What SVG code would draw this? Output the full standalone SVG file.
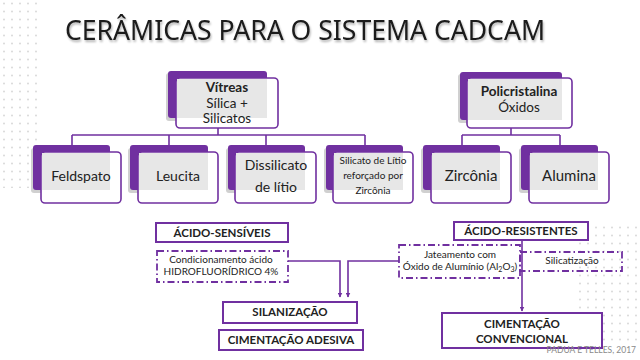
<svg xmlns="http://www.w3.org/2000/svg" width="640" height="360" viewBox="0 0 640 360">
<defs>
<pattern id="dots" x="0" y="0" width="8" height="8" patternUnits="userSpaceOnUse">
<circle cx="4" cy="3.5" r="1" fill="#d9d9d9"/>
</pattern>
<marker id="arr" viewBox="0 0 10 10" refX="9" refY="5" markerWidth="5" markerHeight="5" orient="auto" markerUnits="userSpaceOnUse">
<path d="M0,0 L10,5 L0,10 z" fill="#7030a0"/>
</marker>
<filter id="sh" x="-5%" y="-20%" width="110%" height="150%">
<feGaussianBlur in="SourceAlpha" stdDeviation="0.8"/>
<feOffset dx="1" dy="1.5" result="b"/>
<feComponentTransfer><feFuncA type="linear" slope="0.3"/></feComponentTransfer>
<feMerge><feMergeNode/><feMergeNode in="SourceGraphic"/></feMerge>
</filter>
</defs>
<style>
.back{fill:#7030a0;}
.shade{fill:#d0d0d0;}
.front{fill:#ffffff;stroke:#7030a0;stroke-width:1.6;}
.gray{fill:#e7e7e7;}
.t{font-family:Lato,"Open Sans","Liberation Sans",sans-serif;fill:#222;text-anchor:middle;}
.b{font-weight:bold;}
.box{fill:#ffffff;stroke:#7030a0;stroke-width:2;}
.dash{fill:none;stroke:#7030a0;stroke-width:1.8;stroke-dasharray:7 3 1.5 3;}
.con{fill:none;stroke:#7030a0;stroke-width:1.6;}
</style>
<rect width="640" height="360" fill="#ffffff"/>
<rect x="0" y="0" width="40" height="188" fill="url(#dots)"/>
<rect x="576" y="222" width="64" height="124" fill="url(#dots)"/>

<text x="305" y="40" font-family="'Noto Sans','Open Sans',sans-serif" font-size="27" fill="#1a1a1a" text-anchor="middle" textLength="480" lengthAdjust="spacingAndGlyphs" filter="url(#sh)">CERÂMICAS PARA O SISTEMA CADCAM</text>

<g id="connectors">
<path class="con" d="M218,128 V135 M72,135 H365 M72,135 V145 M169,135 V145 M266,135 V145 M365,135 V145"/>
<path class="con" d="M511,128 V135 M462,135 H560 M462,135 V145 M560,135 V145"/>
<path class="con" d="M288,261 H340 V297" marker-end="url(#arr)"/>
<path class="con" d="M399,261 H348 V297" marker-end="url(#arr)"/>
<path class="con" d="M522,240 V311" marker-end="url(#arr)"/>
</g>

<g id="vitreas">
<rect class="shade" x="166" y="73" width="101" height="48" rx="3"/>
<rect class="back" x="168" y="71" width="99" height="47" rx="3"/>
<rect class="front" x="176" y="78" width="102" height="50" rx="4"/>
<rect class="gray" x="177" y="79" width="90" height="39"/>
<text class="t b" x="227" y="92" font-size="13.5">Vítreas</text>
<text class="t" x="227" y="107.5" font-size="13.5">Sílica +</text>
<text class="t" x="227" y="123" font-size="13.5">Silicatos</text>
</g>

<g id="policristalina">
<rect class="shade" x="458" y="74" width="104" height="49" rx="3"/>
<rect class="back" x="460" y="72" width="102" height="48" rx="3"/>
<rect class="front" x="467" y="78" width="105" height="50" rx="4"/>
<rect class="gray" x="468" y="79" width="94" height="41"/>
<text class="t b" x="519" y="96" font-size="13.5">Policristalina</text>
<text class="t" x="519" y="111.5" font-size="13.5">Óxidos</text>
</g>

<g id="feldspato">
<rect class="shade" x="31" y="148" width="79" height="45" rx="3"/>
<rect class="back" x="33" y="145" width="77" height="45" rx="3"/>
<rect class="front" x="41" y="152" width="80" height="51" rx="4"/>
<rect class="gray" x="42" y="153" width="68" height="37"/>
<text class="t" x="81" y="181" font-size="14">Feldspato</text>
</g>
<g id="leucita">
<rect class="shade" x="128" y="148" width="80" height="45" rx="3"/>
<rect class="back" x="130" y="145" width="78" height="45" rx="3"/>
<rect class="front" x="138" y="152" width="80" height="51" rx="4"/>
<rect class="gray" x="139" y="153" width="69" height="37"/>
<text class="t" x="178" y="181" font-size="14">Leucita</text>
</g>
<g id="dissilicato">
<rect class="shade" x="226" y="148" width="79" height="45" rx="3"/>
<rect class="back" x="228" y="145" width="77" height="45" rx="3"/>
<rect class="front" x="235" y="152" width="81" height="51" rx="4"/>
<rect class="gray" x="236" y="153" width="69" height="37"/>
<text class="t" x="276" y="170" font-size="14">Dissilicato</text>
<text class="t" x="276" y="192" font-size="14">de lítio</text>
</g>
<g id="silicato-litio">
<rect class="shade" x="324" y="148" width="79" height="45" rx="3"/>
<rect class="back" x="326" y="145" width="77" height="45" rx="3"/>
<rect class="front" x="333" y="152" width="80" height="51" rx="4"/>
<rect class="gray" x="334" y="153" width="69" height="37"/>
<text class="t" x="373" y="164" font-size="10">Silicato de Lítio</text>
<text class="t" x="373" y="179" font-size="10">reforçado por</text>
<text class="t" x="373" y="194" font-size="10">Zircônia</text>
</g>
<g id="zirconia">
<rect class="shade" x="421" y="148" width="79" height="45" rx="3"/>
<rect class="back" x="423" y="145" width="77" height="45" rx="3"/>
<rect class="front" x="431" y="152" width="80" height="51" rx="4"/>
<rect class="gray" x="432" y="153" width="68" height="37"/>
<text class="t" x="471" y="181" font-size="15">Zircônia</text>
</g>
<g id="alumina">
<rect class="shade" x="519" y="148" width="79" height="45" rx="3"/>
<rect class="back" x="521" y="145" width="77" height="45" rx="3"/>
<rect class="front" x="529" y="152" width="80" height="51" rx="4"/>
<rect class="gray" x="530" y="153" width="68" height="37"/>
<text class="t" x="569" y="181" font-size="15">Alumina</text>
</g>

<g id="acido-sensiveis">
<rect class="box" x="156" y="223" width="132" height="19"/>
<text class="t b" x="222" y="237" font-size="11.5">ÁCIDO-SENSÍVEIS</text>
</g>
<g id="condicionamento">
<rect class="dash" x="157" y="251" width="131" height="31"/>
<text class="t" x="221" y="263" font-size="10">Condicionamento ácido</text>
<text class="t" x="221" y="275" font-size="10">HIDROFLUORÍDRICO 4%</text>
</g>
<g id="silanizacao">
<rect class="box" x="223" y="302" width="134" height="21"/>
<text class="t b" x="290" y="316" font-size="11.5">SILANIZAÇÃO</text>
</g>
<g id="cimentacao-adesiva">
<rect class="box" x="219" y="330" width="144" height="20"/>
<text class="t b" x="291" y="344" font-size="11.5">CIMENTAÇÃO ADESIVA</text>
</g>

<g id="acido-resistentes">
<rect class="box" x="454" y="222" width="134" height="18"/>
<text class="t b" x="521" y="235" font-size="11.5">ÁCIDO-RESISTENTES</text>
</g>
<g id="jateamento">
<rect class="dash" x="399" y="245" width="121" height="33"/>
<text class="t" x="460" y="258" font-size="10">Jateamento com</text>
<text class="t" x="460" y="270" font-size="10">Óxido de Alumínio (Al<tspan font-size="7" dy="2">2</tspan><tspan dy="-2">O</tspan><tspan font-size="7" dy="2">3</tspan><tspan dy="-2">)</tspan></text>
</g>
<g id="silicatizacao">
<rect class="dash" x="520" y="252" width="102" height="19"/>
<text class="t" x="572" y="264" font-size="10">Silicatização</text>
</g>
<g id="cimentacao-convencional">
<rect class="box" x="442" y="313" width="160" height="35"/>
<text class="t b" x="522" y="328" font-size="11.5">CIMENTAÇÃO</text>
<text class="t b" x="522" y="343" font-size="11.5">CONVENCIONAL</text>
</g>

<text x="636" y="353" font-family="Lato,'Open Sans',sans-serif" font-size="8.5" fill="#8a8a8a" text-anchor="end">PADUA E TELLES, 2017</text>
</svg>
